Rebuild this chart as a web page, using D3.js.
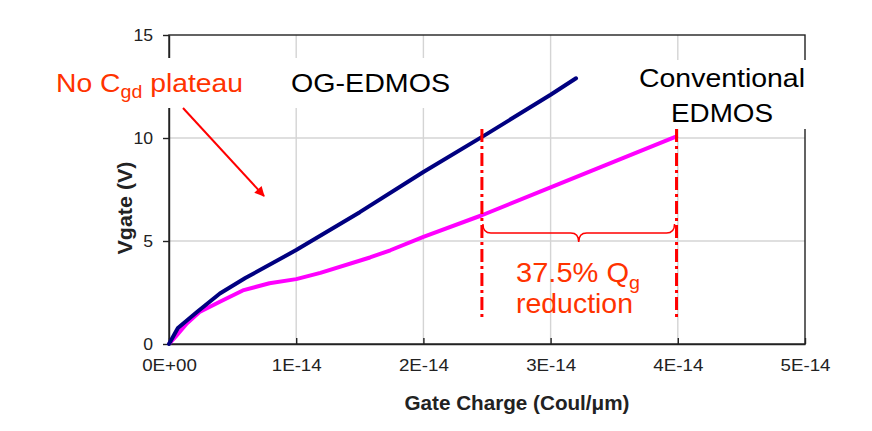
<!DOCTYPE html>
<html><head><meta charset="utf-8">
<script src="https://cdn.jsdelivr.net/npm/d3@7"></script>
<style>body{margin:0;background:#fff}svg{font-family:"Liberation Sans",Arial,sans-serif}</style>
</head><body><svg id="c" width="872" height="431"></svg>
<script>
const xTicks = [0, 1e-14, 2e-14, 3e-14, 4e-14, 5e-14];
const xTickLabels = ["0E+00", "1E-14", "2E-14", "3E-14", "4E-14", "5E-14"];
const yTicks = [0, 5, 10, 15];
const ogQ = [0, 0.07e-14, 0.22e-14, 0.4e-14, 0.6e-14, 1.0e-14, 1.5e-14, 2.0e-14, 2.5e-14, 3.0e-14, 3.2e-14];
const ogV = [0, 0.78, 1.55, 2.45, 3.2, 4.56, 6.4, 8.35, 10.2, 12.1, 12.9];
const convQ = [0, 0.05e-14, 0.14e-14, 0.24e-14, 0.4e-14, 0.58e-14, 0.79e-14, 1.0e-14, 1.19e-14, 1.58e-14, 1.74e-14, 2.0e-14, 2.46e-14, 3.0e-14, 3.5e-14, 4.0e-14];
const convV = [0, 0.34, 1.0, 1.55, 2.05, 2.6, 2.95, 3.15, 3.45, 4.2, 4.55, 5.2, 6.25, 7.6, 8.85, 10.1];
const markQ = [2.46e-14, 3.99e-14];

const svg = d3.select("#c");
const m = {l:169, r:805, t:35, b:344};
const x = d3.scaleLinear().domain([0, 5e-14]).range([m.l, m.r]);
const y = d3.scaleLinear().domain([0, 15]).range([m.b, m.t]);

function fit(sel, w) {
  sel.attr("textLength", w).attr("lengthAdjust", "spacingAndGlyphs");
}
function stretch(sel, k) {
  sel.each(function() {
    const L = this.getComputedTextLength();
    d3.select(this).attr("textLength", L * k).attr("lengthAdjust", "spacingAndGlyphs");
  });
}

// gridlines
svg.append("g").selectAll("line").data(xTicks.slice(1, -1)).join("line")
  .attr("x1", d => x(d)).attr("x2", d => x(d)).attr("y1", m.t).attr("y2", m.b)
  .attr("stroke", "#d4d4d4").attr("stroke-width", 1.4);
svg.append("g").selectAll("line").data(yTicks.slice(1, -1)).join("line")
  .attr("x1", m.l).attr("x2", m.r).attr("y1", d => y(d)).attr("y2", d => y(d))
  .attr("stroke", "#d4d4d4").attr("stroke-width", 1.4);

// border
svg.append("rect").attr("x", m.l).attr("y", m.t).attr("width", m.r - m.l).attr("height", m.b - m.t)
  .attr("fill", "none").attr("stroke", "#222").attr("stroke-width", 1.4);

// axes
const xa = svg.append("g").attr("transform", `translate(0,${m.b})`)
  .call(d3.axisBottom(x).tickValues(xTicks).tickFormat((d, i) => xTickLabels[i]).tickSizeInner(-6).tickSizeOuter(0).tickPadding(16));
const ya = svg.append("g").attr("transform", `translate(${m.l},0)`)
  .call(d3.axisLeft(y).tickValues(yTicks).tickSizeInner(6).tickSizeOuter(0).tickPadding(10));
[xa, ya].forEach((a, i) => {
  a.select(".domain").attr("stroke", "#222").attr("stroke-width", 1.4);
  a.selectAll(".tick line").attr("stroke", "#222").attr("stroke-width", 1.4);
  a.selectAll("text").attr("font-size", 16).attr("fill", "#222").attr("font-family", "Liberation Sans, Arial, sans-serif");
  stretch(a.selectAll("text"), i === 0 ? 1.17 : 1.1);
});

// curves
const line = d3.line().x(d => x(d[0])).y(d => y(d[1]));
svg.append("path").datum(convQ.map((q, i) => [q, convV[i]])).attr("d", line)
  .attr("fill", "none").attr("stroke", "#ff00ff").attr("stroke-width", 4).attr("stroke-linejoin", "round");
svg.append("path").datum(ogQ.map((q, i) => [q, ogV[i]])).attr("d", line)
  .attr("fill", "none").attr("stroke", "#000080").attr("stroke-width", 4).attr("stroke-linejoin", "round").attr("stroke-linecap", "round");

// dash-dot markers
svg.append("g").selectAll("line").data(markQ).join("line")
  .attr("x1", d => x(d)).attr("x2", d => x(d)).attr("y1", 129).attr("y2", 318)
  .attr("stroke", "#ff0000").attr("stroke-width", 3).attr("stroke-dasharray", "13,4,3,4");

// brace
const bx0 = x(markQ[0]) + 1, bx1 = x(markQ[1]) - 2, bm = (bx0 + bx1) / 2, by = 233;
svg.append("path")
  .attr("d", `M${bx0},${by-9} Q${bx0},${by} ${bx0+8},${by} L${bm-8},${by} Q${bm},${by} ${bm},${by+9} Q${bm},${by} ${bm+8},${by} L${bx1-8},${by} Q${bx1},${by} ${bx1},${by-9}`)
  .attr("fill", "none").attr("stroke", "#ff0000").attr("stroke-width", 1.5);

// text annotations
const orange = "#ff3300";
svg.append("rect").attr("x", 45).attr("y", 58).attr("width", 215).attr("height", 50).attr("fill", "#fff");
const t1 = svg.append("text").attr("x", 56).attr("y", 92).attr("font-size", 26).attr("fill", orange);
t1.append("tspan").text("No C");
t1.append("tspan").text("gd").attr("font-size", 18).attr("dy", 6);
t1.append("tspan").text(" plateau").attr("dy", -6);
fit(t1, 187);

svg.append("rect").attr("x", 283).attr("y", 58).attr("width", 175).attr("height", 50).attr("fill", "#fff");
fit(svg.append("text").attr("x", 291).attr("y", 92).attr("font-size", 26).attr("fill", "#000").text("OG-EDMOS"), 159);

svg.append("rect").attr("x", 633).attr("y", 60).attr("width", 180).attr("height", 69).attr("fill", "#fff");
fit(svg.append("text").attr("x", 722).attr("y", 87).attr("font-size", 26).attr("text-anchor", "middle").text("Conventional"), 166);
fit(svg.append("text").attr("x", 722).attr("y", 122).attr("font-size", 26).attr("text-anchor", "middle").text("EDMOS"), 102);

// arrow
svg.append("defs").append("marker").attr("id", "ah").attr("viewBox", "0 0 10 10").attr("refX", 9).attr("refY", 5)
  .attr("markerWidth", 6).attr("markerHeight", 5).attr("orient", "auto")
  .append("path").attr("d", "M0,0 L10,5 L0,10 z").attr("fill", "#ff0000");
svg.append("line").attr("x1", 183).attr("y1", 108).attr("x2", 264).attr("y2", 196)
  .attr("stroke", "#ff0000").attr("stroke-width", 2).attr("marker-end", "url(#ah)");

const t2 = svg.append("text").attr("x", 516).attr("y", 282).attr("font-size", 28).attr("fill", orange);
t2.append("tspan").text("37.5% Q");
t2.append("tspan").text("g").attr("font-size", 19).attr("dy", 7);
fit(t2, 124);
fit(svg.append("text").attr("x", 516).attr("y", 313).attr("font-size", 28).attr("fill", orange).text("reduction"), 117);

// axis titles
fit(svg.append("text").attr("x", 517).attr("y", 410).attr("font-size", 20.5).attr("font-weight", "bold")
  .attr("text-anchor", "middle").attr("fill", "#222").text("Gate Charge (Coul/μm)"), 225);
fit(svg.append("text").attr("transform", "translate(132,208) rotate(-90)").attr("font-size", 21).attr("font-weight", "bold")
  .attr("text-anchor", "middle").attr("fill", "#222").text("Vgate (V)"), 93);
</script></body></html>
